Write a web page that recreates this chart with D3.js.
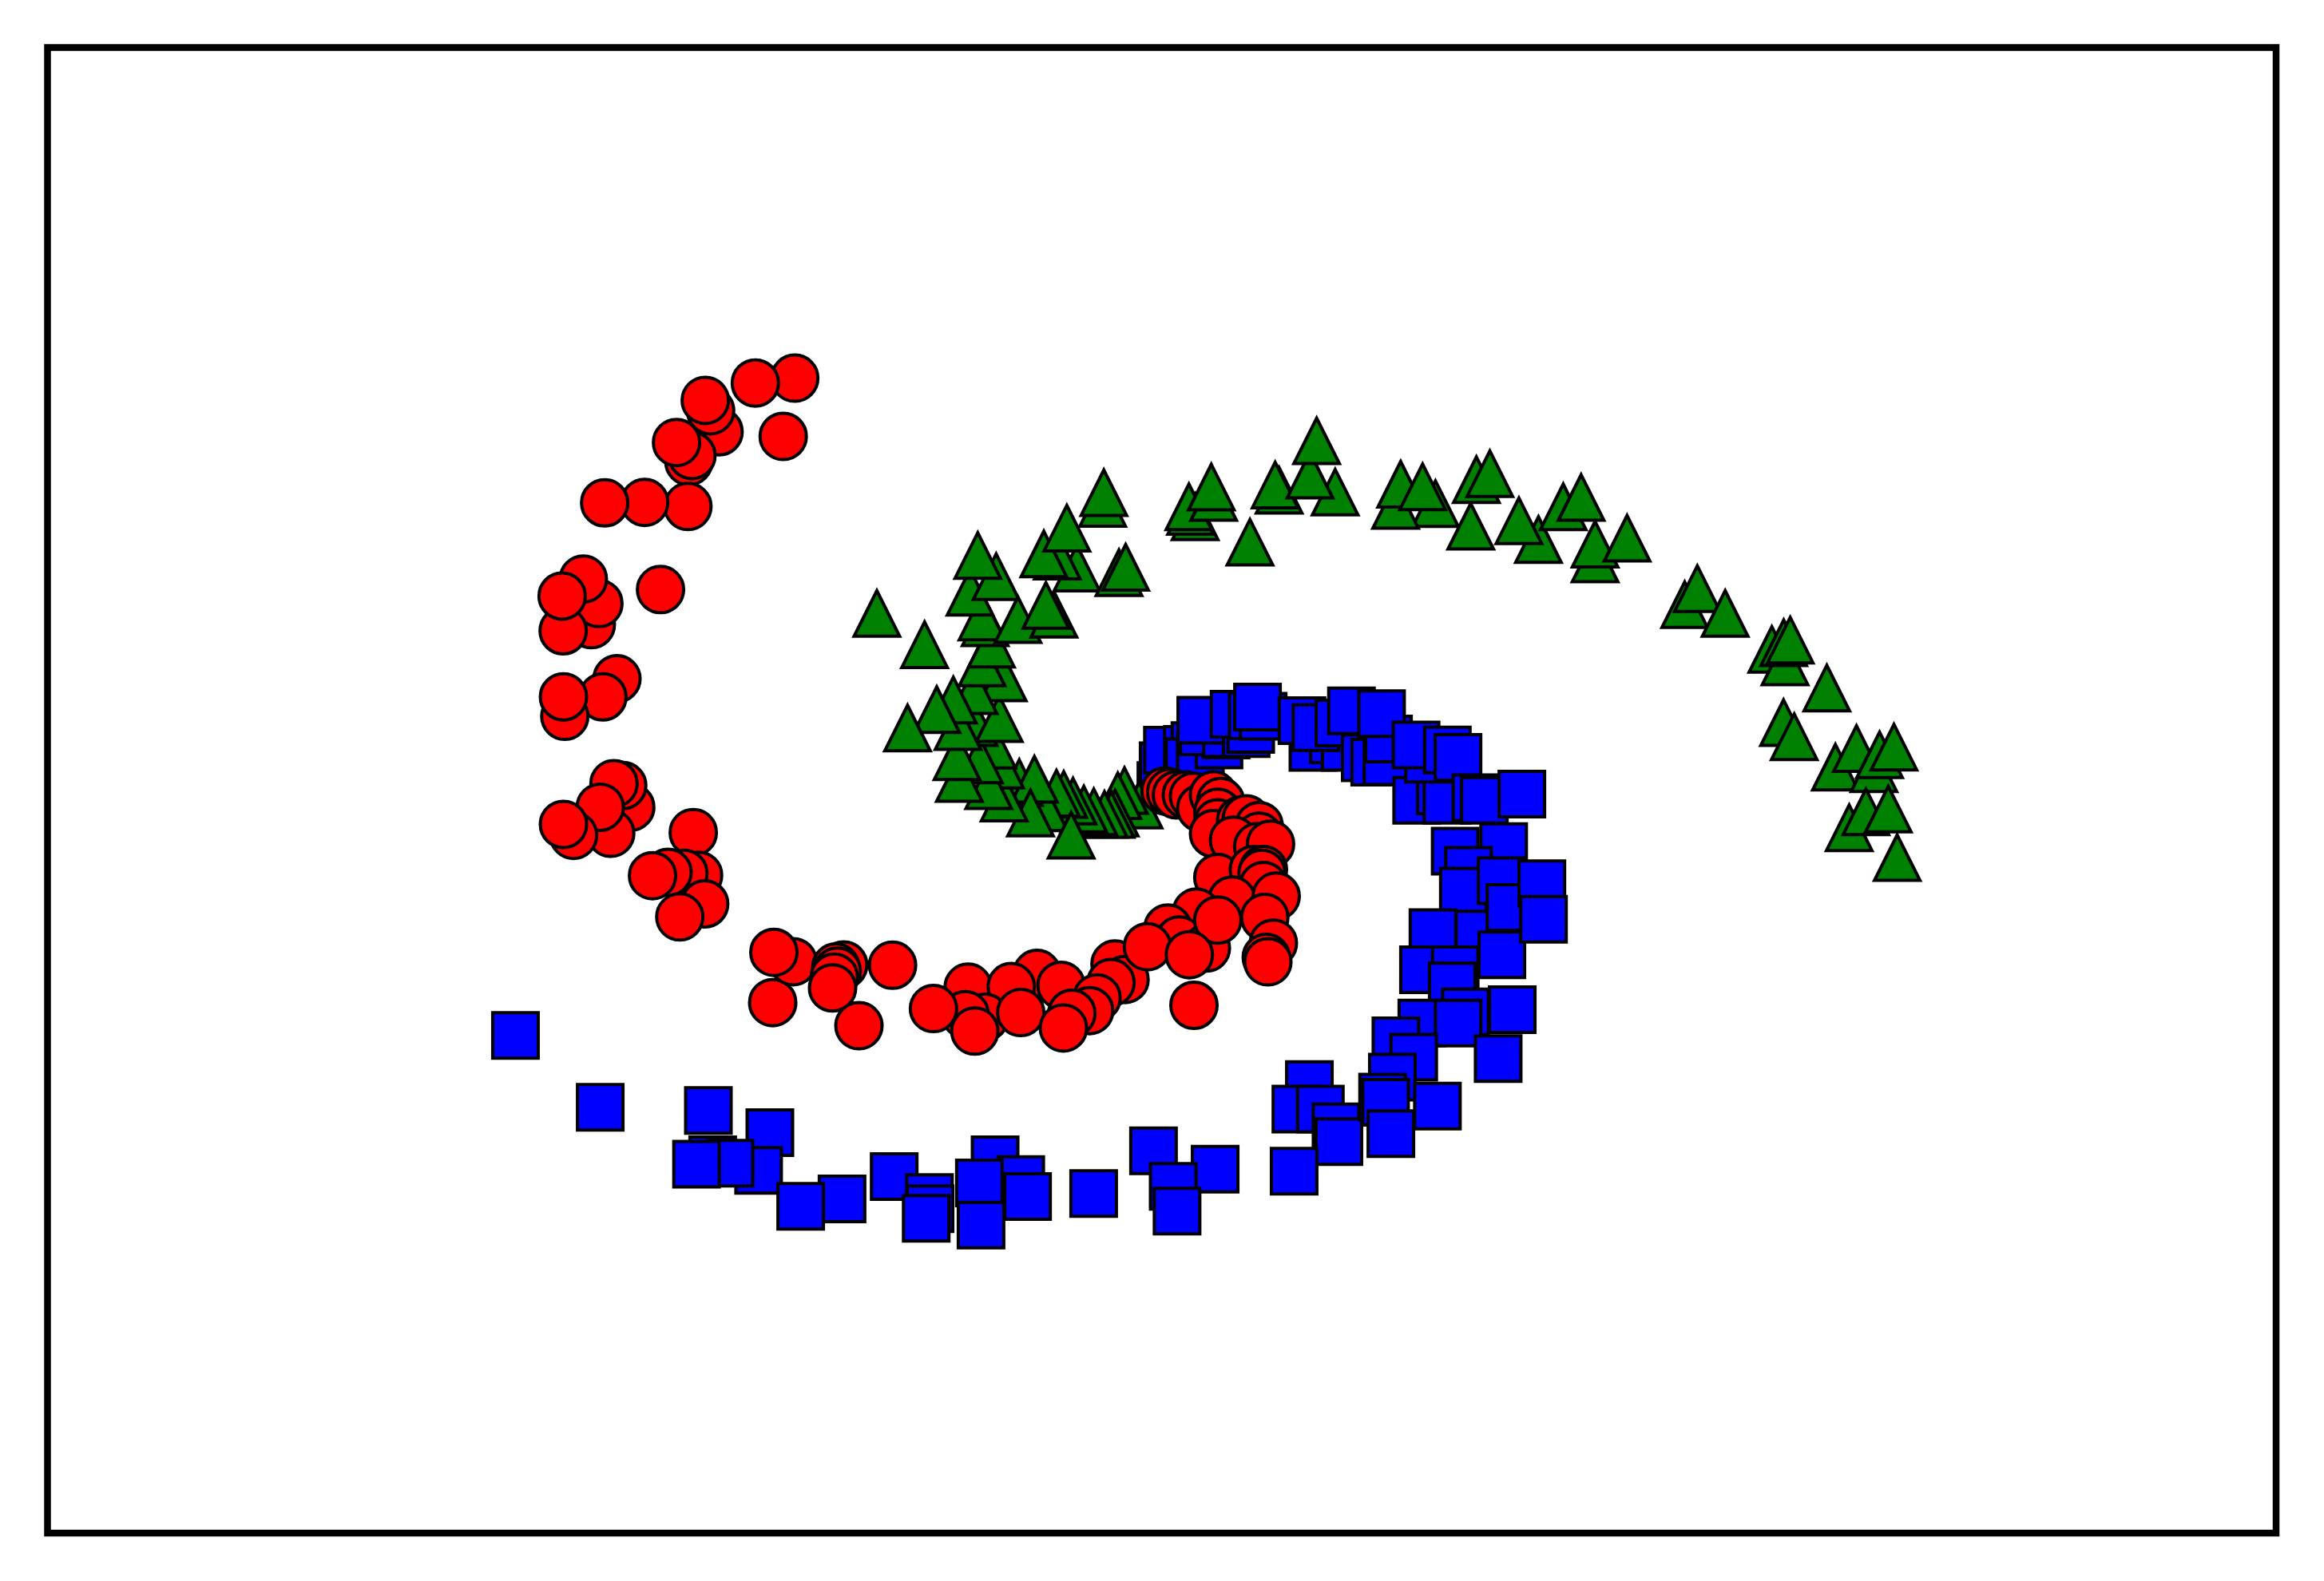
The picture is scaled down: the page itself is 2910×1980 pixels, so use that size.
<!DOCTYPE html>
<html><head><meta charset="utf-8">
<script src="https://cdnjs.cloudflare.com/ajax/libs/d3/7.8.5/d3.min.js"></script>
<style>html,body{margin:0;padding:0;background:#fff}svg{display:block}</style>
</head><body><svg id="c" width="2910" height="1980"></svg>
<script>
const squareX=[347.8,405,480.9,478,519.5,511.9,492.6,470,568.2,540.3,603.4,627.2,627.6,625,671.5,688.8,693.4,660.9,662,738,778.4,820,791.7,794.3,
783.4,784.9,787.8,801.3,806.4,802.4,810,822.6,827.4,812,827.6,840.9,844,810.3,832.8,845,852.4,848.6,886,878.6,899.8,907.8,888,903.6,921.3,927.7,936,937,912,932.3,956,972,976.4,964,955.6,976.7,983.9,996,1001.7,1027,
982,1014.7,991,987.5,1013,998,1019,1040.5,967,960.6,982,1013.5,1041.6,980,989,959.5,984,1020.5,1011,
883.6,874.5,891,901.6,903.5,873.3,942,954,939.6,970,933,935,938.6];
const squareY=[698.3,746.8,782.2,749,763.9,789.4,784.5,785.2,808.6,813.6,793.5,807.7,815.2,821.7,782.2,795.6,807,797.8,826.2,805,776.2,788.6,800.1,816.8,
529.8,516.4,506,505.4,502.9,513.7,510,502.4,495.7,493.5,494.8,494.8,492,485.8,481.7,482.8,483,476.8,504,486,499,504,490.7,487.6,511,514,513.7,498.4,479.4,481.3,539.7,533.4,539.7,512,502.4,505.8,510.8,538,539.7,535.6,
574,571,587,601,594,630,612,596,629,654,654,644,620,665,682.5,690,690,681,714,
731.5,748,748,760,770,789.9,702,713,726.5,746,740,743.5,764.6];
const triangleX=[726.7,713.5,704.4,719.9,744.1,744.9,755.1,759.6,806.5,803.4,802.3,819,817.4,843.5,863.2,860.5,901,884,888.5,968.7,941.8,945.2,960,992.5,996.3,1005.4,1038.2,1025,1054.9,1067,1076.4,1076.4,1098,
1136.9,1145.4,1164.2,1195.7,1204.6,1203.7,1208.1,1232.8,1203.6,1210.8,1238.6,1264.6,1252.8,1268.4,1278.1,1247.9,1259.2,1274.3,1280.3,
768.6,758.8,754.3,752.5,749.8,745.3,738.1,731.4,724.1,717.8,712.9,704.9,687.8,698,695.4,677.6,675.2,667.2,669.9,660.9,647.4,645.8,657.3,674.3,646.5,677,657.3,643.3,632.1,612.4,662.7,669,664.8,662.7,686.9,711.2,705.8,654.6,672.2,659.8,623.9,591.7,722.8];
const triangleY=[383.1,375,373.6,356.2,339.5,332.3,386.2,382.6,348.5,344.9,341.8,335.5,328.5,365.7,330.7,327.1,331.9,320.4,297.3,339.7,340.9,326.6,328.3,354.9,323.5,319.4,363.9,351.2,341.8,335.5,377,367,363,
407.8,397,413.7,438,446.4,433.5,431.7,464,487.4,496.9,517.4,518.4,504.8,509.1,503.9,558.3,547.5,545.7,578.4,
543,533.2,536.7,548.4,549.3,549.3,547.5,545.7,540.3,535.8,535,544.8,527.8,525.6,548.4,538.2,516.1,529.9,502.6,512.5,525.1,510.4,487.4,484.7,490.1,457.2,465.8,472.1,478.6,491,447.1,434.4,420,416.1,417.9,414.3,408.3,399.4,388.9,374.6,434.8,413.7,563.3];
const circleX=[536.3,509.7,528.5,485.2,479.5,475.9,464.8,466.9,456.5,464.2,435,408,445.7,399,404.1,393.6,380,379.3,416.3,406.8,381.1,380.2,425.6,420.2,414.3,412.1,405,387,380.2,467.8,471.4,461.5,450.8,440.3,475.5,458.7,521.4,535.2,522.2,569.3,564,565,563,561.8,602.3,579.6,
699.8,653.3,682.4,716,664.7,651.4,657.8,629.9,688.8,752.4,759.2,749.7,740.3,735.3,723.3,717.6,805.7,
786.2,790,793.9,800.6,805.4,810.3,818.9,823.7,821.8,821.8,818.9,837.2,841,849.7,849.7,832.4,848.7,857.4,
821.8,845.8,852.6,851.6,852.6,831.4,861.2,807.4,788.1,795.8,774.3,814.1,821.8,802.6,853.5,859.3,854.5,855.6];
const circleY=[255,258.3,294.3,291.2,277,270,311.3,307.2,298.4,341.6,338.8,339.1,397.6,421.3,407,390.5,425.4,402,457.8,470,483.1,470,544.4,529.8,528.5,562,544.4,563.4,556,561.5,590.3,589,588.4,590.6,609.6,618.4,676.2,648.6,642.3,650.8,652.2,655,659,666.3,651,691.8,
656.5,665.8,665.4,664.5,686.1,684.3,695.4,680.2,682.9,650.2,660.6,662.7,673,681.6,683.4,693.3,678,
533.4,534.3,536.1,536.1,537,545,536.1,540.6,547.8,555,562.2,553.2,552.3,556.8,564,566.6,571,569.3,
591.8,586.4,586.4,589,597.2,607,604.4,615.1,625.9,634,638.5,639.4,620.5,643.9,618.7,636.1,645.7,648.7];

const svg=d3.select("#c");
const frameW=8.5,leftEdge=59.5,rightEdge=2850,topEdge=59.5,bottomEdge=1920;
const x=d3.scaleLinear().domain([32,1536]).range([leftEdge,rightEdge]);
const y=d3.scaleLinear().domain([32,1034]).range([topEdge,bottomEdge]);
const markStroke=4, side=57, circleDiameter=58;
const upTriangle={draw(ctx,size){const r=Math.sqrt(size)/2;ctx.moveTo(0,-r);ctx.lineTo(r,r);ctx.lineTo(-r,r);ctx.closePath();}};
const pts=(xs,ys)=>xs.map((v,i)=>[v,ys[i]]);
function layer(data,type,size,fill){
  const path=d3.symbol().type(type).size(size)();
  svg.append("g").selectAll("path").data(data).join("path")
    .attr("d",path).attr("transform",d=>`translate(${x(d[0])},${y(d[1])})`)
    .attr("fill",fill).attr("stroke","#000").attr("stroke-width",markStroke).attr("stroke-linejoin","miter").attr("stroke-miterlimit",10);
}
layer(pts(squareX,squareY),d3.symbolSquare,side*side,"#0000ff");
layer(pts(triangleX,triangleY),upTriangle,side*side,"#008000");
layer(pts(circleX,circleY),d3.symbolCircle,Math.PI*circleDiameter*circleDiameter/4,"#ff0000");
svg.append("rect").attr("x",leftEdge).attr("y",topEdge).attr("width",rightEdge-leftEdge).attr("height",bottomEdge-topEdge)
  .attr("fill","none").attr("stroke","#000").attr("stroke-width",frameW);
</script></body></html>
